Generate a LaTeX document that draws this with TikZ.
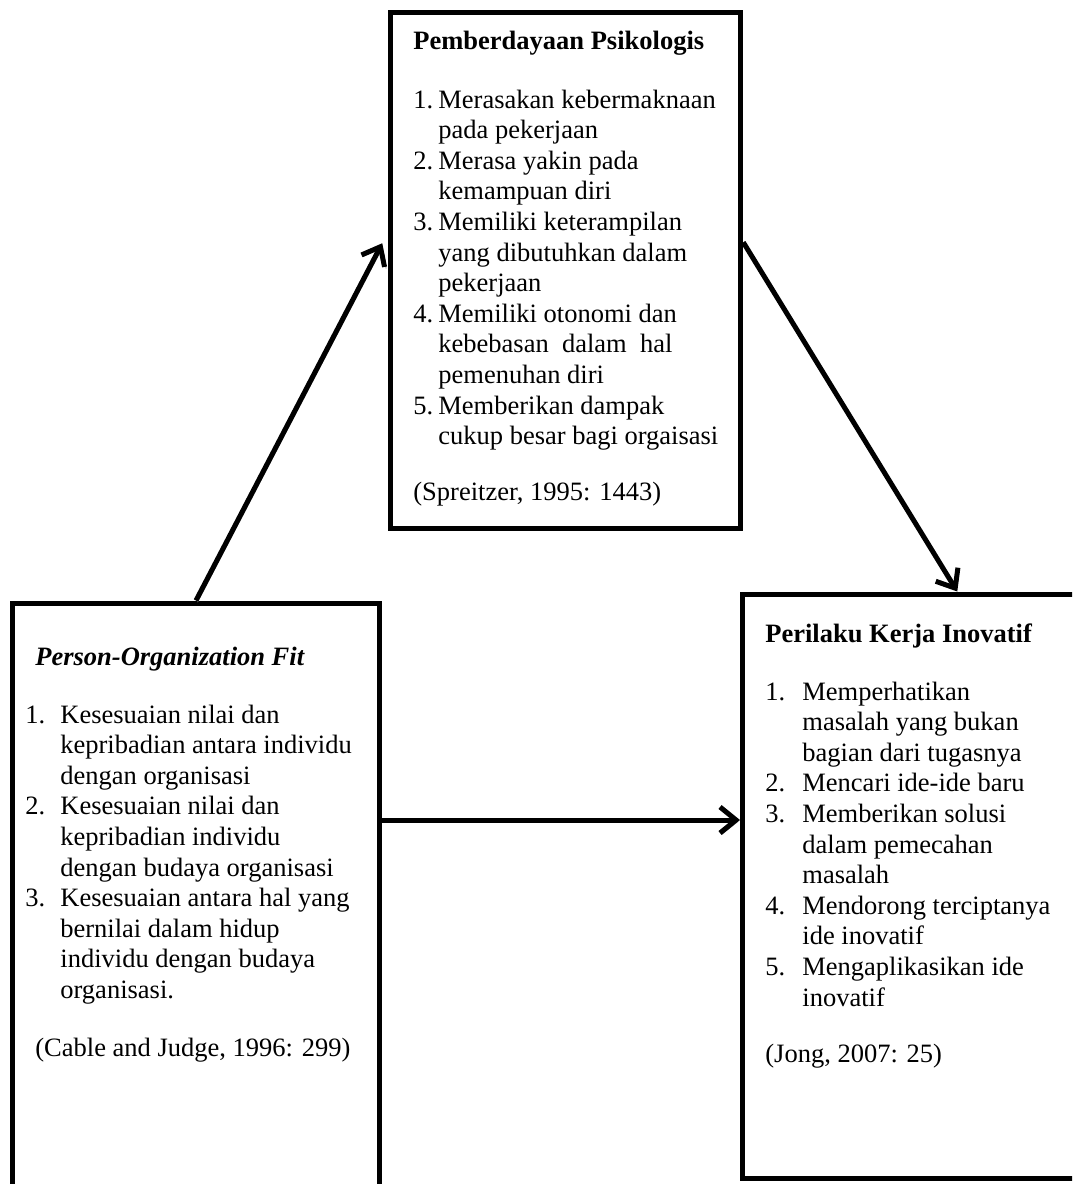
\documentclass[tikz,border=0pt]{standalone}
\usepackage{fontspec}
\setmainfont{Liberation Serif}
\usepackage{xcolor}
\definecolor{vizShadow}{HTML}{9A9A9A}
\usetikzlibrary{arrows.meta}

\tikzset{
  frame/.style={draw=black, line width=2.5pt, inner sep=0pt},
  conn/.style={line width=2.5pt, -{Straight Barb[length=8pt,width=13pt]},
    preaction={draw=vizShadow, transform canvas={shift={(0.8pt,-0.8pt)}}}},
  txt/.style={inner sep=0pt, anchor=base west, font=\fontsize{13.25}{15.3}\selectfont},
}

\begin{document}
\begin{tikzpicture}[x=0.5pt, y=-0.5pt]
  \useasboundingbox (0,0) rectangle (1072,1184);
  \clip (0,0) rectangle (1072,1184);

  \node[frame, minimum width=175pt, minimum height=257.75pt] (psiko) at (565.75,270.25) {};
  \node[frame, minimum width=183.5pt, minimum height=308.5pt] (pofit) at (196,911.5) {};
  \node[frame, minimum width=214.75pt, minimum height=292pt] (pki) at (957.25,886) {};

  \node[txt] (psikoHead) at (413,49) {\textbf{Pemberdayaan Psikologis}};
  \node[txt] (psikoList) at (413,108) {\begin{tabular}[t]{@{}p{12.5pt}@{}l@{}}
    1. & Merasakan kebermaknaan\\
       & pada pekerjaan\\
    2. & Merasa yakin pada\\
       & kemampuan diri\\
    3. & Memiliki keterampilan\\
       & yang dibutuhkan dalam\\
       & pekerjaan\\
    4. & Memiliki otonomi dan\\
       & kebebasan~ dalam~ hal\\
       & pemenuhan diri\\
    5. & Memberikan dampak\\
       & cukup besar bagi orgaisasi
  \end{tabular}};
  \node[txt] (psikoRef) at (413,500) {(Spreitzer, 1995: 1443)};

  \node[txt] (pofitHead) at (35,665) {\textbf{\textit{Person-Organization Fit}}};
  \node[txt] (pofitList) at (25,723) {\begin{tabular}[t]{@{}p{17.5pt}@{}l@{}}
    1. & Kesesuaian nilai dan\\
       & kepribadian antara individu\\
       & dengan organisasi\\
    2. & Kesesuaian nilai dan\\
       & kepribadian individu\\
       & dengan budaya organisasi\\
    3. & Kesesuaian antara hal yang\\
       & bernilai dalam hidup\\
       & individu dengan budaya\\
       & organisasi.
  \end{tabular}};
  \node[txt] (pofitRef) at (35,1056) {(Cable and Judge, 1996: 299)};

  \node[txt] (pkiHead) at (765,642) {\textbf{Perilaku Kerja Inovatif}};
  \node[txt] (pkiList) at (765,700) {\begin{tabular}[t]{@{}p{18.5pt}@{}l@{}}
    1. & Memperhatikan\\
       & masalah yang bukan\\
       & bagian dari tugasnya\\
    2. & Mencari ide-ide baru\\
    3. & Memberikan solusi\\
       & dalam pemecahan\\
       & masalah\\
    4. & Mendorong terciptanya\\
       & ide inovatif\\
    5. & Mengaplikasikan ide\\
       & inovatif
  \end{tabular}};
  \node[txt] (pkiRef) at (765,1062) {(Jong, 2007: 25)};

  \draw[conn] (pofit.north) -- ([xshift=-3pt,yshift=13.5pt]psiko.west);
  \draw[conn] ([yshift=14pt]psiko.east) -- (pki.north);
  \draw[conn] ([yshift=45.75pt]pofit.east) -- ([yshift=45.75pt]pofit.east -| pki.west);
\end{tikzpicture}
\end{document}
